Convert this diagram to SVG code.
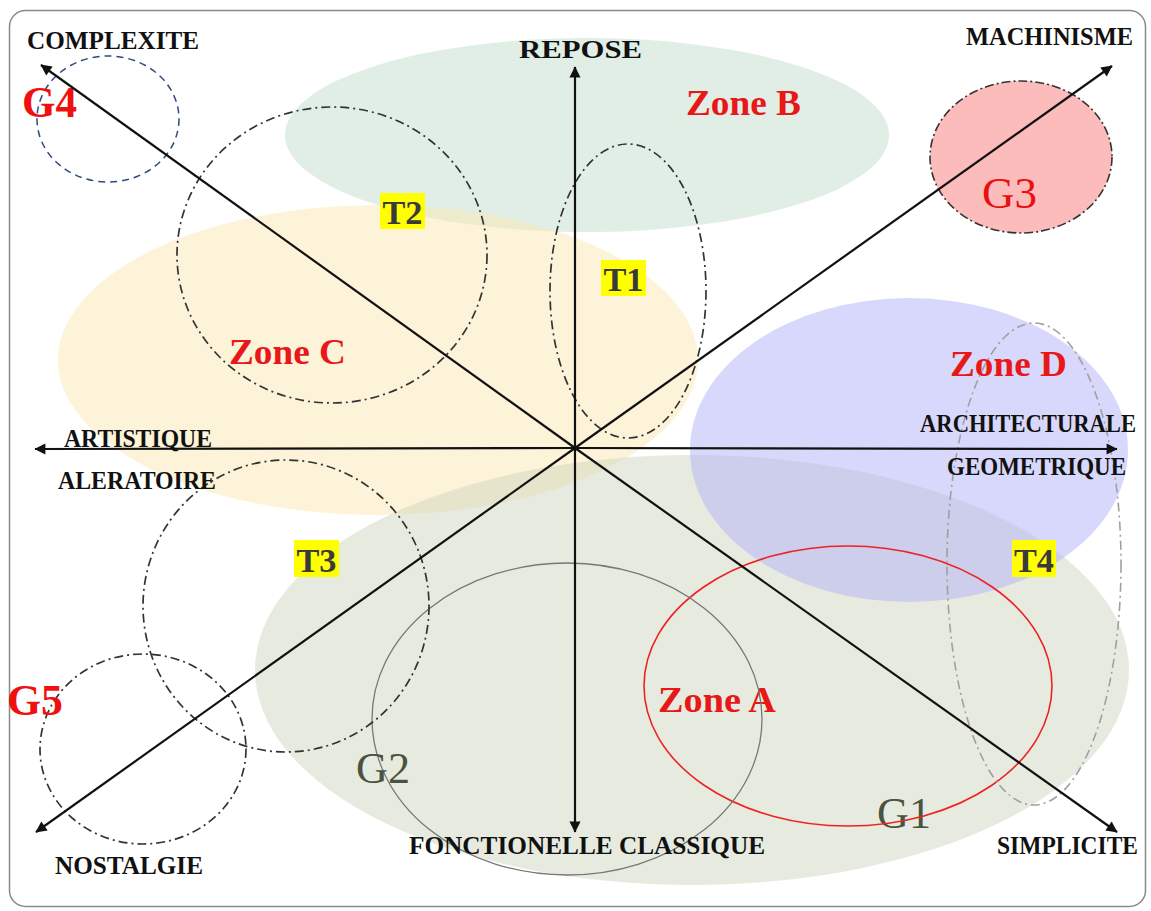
<svg xmlns="http://www.w3.org/2000/svg" width="1151" height="911" viewBox="0 0 1151 911">
<defs>
<style>
.ax{font-family:"Liberation Serif","Times New Roman",serif;font-weight:bold;fill:#111;font-size:26px}
.zone{font-family:"Liberation Serif","Times New Roman",serif;font-weight:bold;fill:#e81818;font-size:35px}
.g{font-family:"Liberation Serif","Times New Roman",serif;font-size:45px}
.t{font-family:"Liberation Serif","Times New Roman",serif;font-weight:bold;fill:#3a3a3a;font-size:34px}
.hl{fill:#ffff00}
.dd{fill:none;stroke:#333;stroke-width:1.7;stroke-dasharray:9 4 2 4}
.axis{stroke:#111;stroke-width:2.2;fill:none;marker-end:url(#arr)}
</style>
<marker id="arr" viewBox="0 0 10 10" refX="9" refY="5" markerWidth="7.5" markerHeight="6.5" markerUnits="userSpaceOnUse" orient="auto" overflow="visible">
<path d="M0,0 L10,5 L0,10 z" fill="#111" transform="scale(1.7)" transform-origin="10 5"/>
</marker>
</defs>
<rect x="0" y="0" width="1151" height="911" fill="#fff"/>
<rect x="9.5" y="10.5" width="1136" height="896" rx="16" ry="16" fill="#fff" stroke="#8a8a8a" stroke-width="1.5"/>

<g id="zoneB"><ellipse cx="587" cy="135" rx="302" ry="97" fill="rgb(193,221,205)" fill-opacity="0.5"/>
<text class="zone" x="686" y="115" textLength="115" lengthAdjust="spacingAndGlyphs">Zone B</text></g>
<g id="zoneC"><ellipse cx="378" cy="360" rx="320" ry="155" fill="rgb(251,231,177)" fill-opacity="0.5"/>
<text class="zone" x="229" y="364" textLength="117" lengthAdjust="spacingAndGlyphs">Zone C</text></g>
<g id="G1"><ellipse cx="692" cy="670" rx="437" ry="215" fill="rgb(207,215,191)" fill-opacity="0.5"/>
<text class="g" x="877" y="828" fill="#4b5340" textLength="54" lengthAdjust="spacingAndGlyphs">G1</text></g>
<g id="zoneD"><ellipse cx="909" cy="450" rx="219" ry="152" fill="rgb(177,177,249)" fill-opacity="0.5"/>
<text class="zone" x="950" y="376" textLength="117" lengthAdjust="spacingAndGlyphs">Zone D</text></g>
<g id="zoneA"><ellipse cx="848" cy="686" rx="204" ry="140" fill="none" stroke="#ee2222" stroke-width="1.6"/>
<text class="zone" x="658" y="712" textLength="118" lengthAdjust="spacingAndGlyphs">Zone A</text></g>
<g id="G2"><ellipse cx="567" cy="719" rx="195" ry="156" fill="none" stroke="#777" stroke-width="1.3"/>
<text class="g" x="356" y="783" fill="#4b5340" textLength="54" lengthAdjust="spacingAndGlyphs">G2</text></g>
<g id="G3"><ellipse cx="1021" cy="157" rx="91" ry="76" fill="#fdbcbc" stroke="#333" stroke-width="1.6" stroke-dasharray="9 3 2 3"/>
<text class="g" x="982" y="208" fill="#e81010" textLength="55" lengthAdjust="spacingAndGlyphs">G3</text></g>
<g id="G4"><ellipse cx="108" cy="119" rx="71" ry="63" fill="none" stroke="#2f4a80" stroke-width="1.5" stroke-dasharray="7 5"/>
<text class="g" x="22" y="117" fill="#f01010" font-weight="bold" textLength="55" lengthAdjust="spacingAndGlyphs">G4</text></g>
<g id="G5"><ellipse cx="143" cy="749" rx="103" ry="95" class="dd"/>
<text class="g" x="7" y="715" fill="#f01010" font-weight="bold" textLength="56" lengthAdjust="spacingAndGlyphs">G5</text></g>
<g id="T1"><ellipse cx="628" cy="291" rx="78" ry="147" class="dd"/>
<rect class="hl" x="601" y="260" width="45" height="36"/>
<text class="t" x="603.5" y="291" textLength="40" lengthAdjust="spacingAndGlyphs">T1</text></g>
<g id="T2"><ellipse cx="332" cy="255" rx="155" ry="148" class="dd"/>
<rect class="hl" x="380" y="193" width="45" height="36"/>
<text class="t" x="382.5" y="224" textLength="40" lengthAdjust="spacingAndGlyphs">T2</text></g>
<g id="T3"><ellipse cx="286" cy="606" rx="143" ry="146" class="dd"/>
<rect class="hl" x="294" y="540" width="45" height="37"/>
<text class="t" x="296.5" y="572" textLength="40" lengthAdjust="spacingAndGlyphs">T3</text></g>
<g id="T4"><ellipse cx="1034" cy="564" rx="87" ry="241" fill="none" stroke="#a0a0a0" stroke-width="1.6" stroke-dasharray="9 4 2 4"/>
<rect class="hl" x="1012" y="540" width="44" height="37"/>
<text class="t" x="1014" y="572" textLength="40" lengthAdjust="spacingAndGlyphs">T4</text></g>

<g id="connectors">
<line class="axis" x1="575" y1="448" x2="575" y2="67"/>
<line class="axis" x1="575" y1="448" x2="575" y2="832"/>
<line class="axis" x1="575" y1="448" x2="35" y2="449"/>
<line class="axis" x1="575" y1="448" x2="1117" y2="449"/>
<line class="axis" x1="575" y1="448" x2="41" y2="65"/>
<line class="axis" x1="575" y1="448" x2="1117" y2="832"/>
<line class="axis" x1="575" y1="448" x2="1112" y2="66"/>
<line class="axis" x1="575" y1="448" x2="36" y2="832"/>
</g>

<g id="axis-labels">
<text class="ax" x="27" y="49" textLength="172" lengthAdjust="spacingAndGlyphs">COMPLEXITE</text>
<text class="ax" x="519" y="58" font-size="30" textLength="123" lengthAdjust="spacingAndGlyphs">REPOSE</text>
<text class="ax" x="966" y="45" textLength="167" lengthAdjust="spacingAndGlyphs">MACHINISME</text>
<text class="ax" x="920" y="432" font-size="25" textLength="216" lengthAdjust="spacingAndGlyphs">ARCHITECTURALE</text>
<text class="ax" x="947" y="475" textLength="179" lengthAdjust="spacingAndGlyphs">GEOMETRIQUE</text>
<text class="ax" x="64" y="447" textLength="148" lengthAdjust="spacingAndGlyphs">ARTISTIQUE</text>
<text class="ax" x="58" y="489" textLength="158" lengthAdjust="spacingAndGlyphs">ALERATOIRE</text>
<text class="ax" x="409" y="854" textLength="356" lengthAdjust="spacingAndGlyphs">FONCTIONELLE  CLASSIQUE</text>
<text class="ax" x="997" y="854" textLength="141" lengthAdjust="spacingAndGlyphs">SIMPLICITE</text>
<text class="ax" x="55" y="874" textLength="148" lengthAdjust="spacingAndGlyphs">NOSTALGIE</text>
</g>
</svg>
